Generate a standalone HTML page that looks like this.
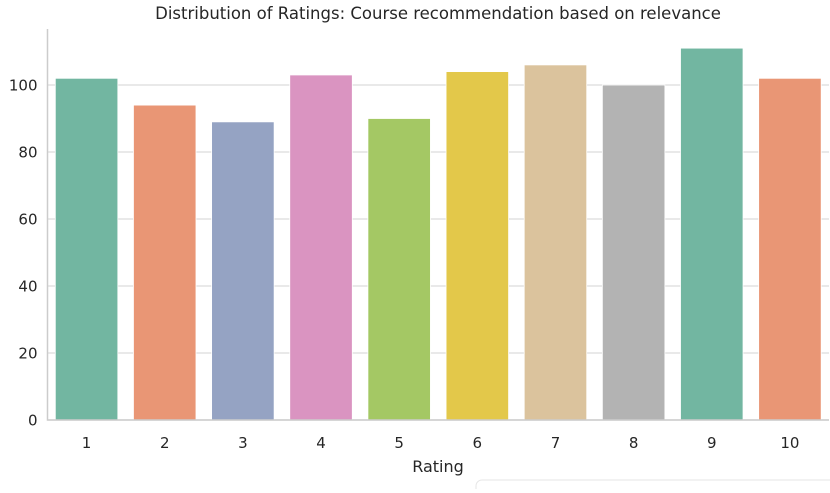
<!DOCTYPE html>
<html><head><meta charset="utf-8"><style>
body{margin:0;background:#fff;width:830px;height:489px;overflow:hidden;font-family:"DejaVu Sans","Liberation Sans",sans-serif;}
svg text{font-family:"DejaVu Sans","Liberation Sans",sans-serif;fill:#262626;}
</style></head><body>
<svg id="chart" width="830" height="489"></svg>
<script>
const categories=["1","2","3","4","5","6","7","8","9","10"];
const counts=[102,94,89,103,90,104,106,100,111,102];
const colors=["#72b6a1","#e99675","#95a3c3","#da94c1","#a4c864","#e3c84a","#dbc39d","#b3b3b3","#72b6a1","#e99675"];
const yTicks=[0,20,40,60,80,100];
const NS="http://www.w3.org/2000/svg";
const svg=document.getElementById('chart');
const L=47.5,R=829,T=29,B=420;
const step=(R-L)/categories.length;
function x(i){return L+step*(i+0.5);}
function y(v){return B-v*3.35;}
function mk(t,a,p){const e=document.createElementNS(NS,t);for(const k in a)e.setAttribute(k,a[k]);(p||svg).appendChild(e);return e;}
yTicks.forEach(v=>{
  const g=mk('line',{x1:L,x2:R,y1:y(v),y2:y(v),stroke:'#dcdcdc','stroke-width':1.2});
  
  
  const t=mk('text',{x:L-10,y:y(v)+5.5,'text-anchor':'end','font-size':15});
  t.textContent=v;
  
  
});
categories.forEach((c,i)=>{
  const w=step*0.8;
  const r=mk('rect',{x:x(i)-w/2,y:y(counts[i]),width:w,height:B-y(counts[i]),fill:colors[i],stroke:'#fff','stroke-width':0.8});
  
  
  const t=mk('text',{x:x(i),y:B+28,'text-anchor':'middle','font-size':15});
  t.textContent=c;
  
  
});
const ax=mk('path',{d:`M${L} ${T} V${B} H${R}`,fill:'none',stroke:'#cccccc','stroke-width':1.5});


const tt=mk('text',{x:438,y:19,'text-anchor':'middle','font-size':16.5});
tt.textContent='Distribution of Ratings: Course recommendation based on relevance';


const xl=mk('text',{x:438,y:472,'text-anchor':'middle','font-size':16});
xl.textContent='Rating';


const tb=mk('rect',{x:476,y:480,width:370,height:30,rx:6,fill:'#fff',stroke:'#e6e6e6'});


</script>
</body></html>
